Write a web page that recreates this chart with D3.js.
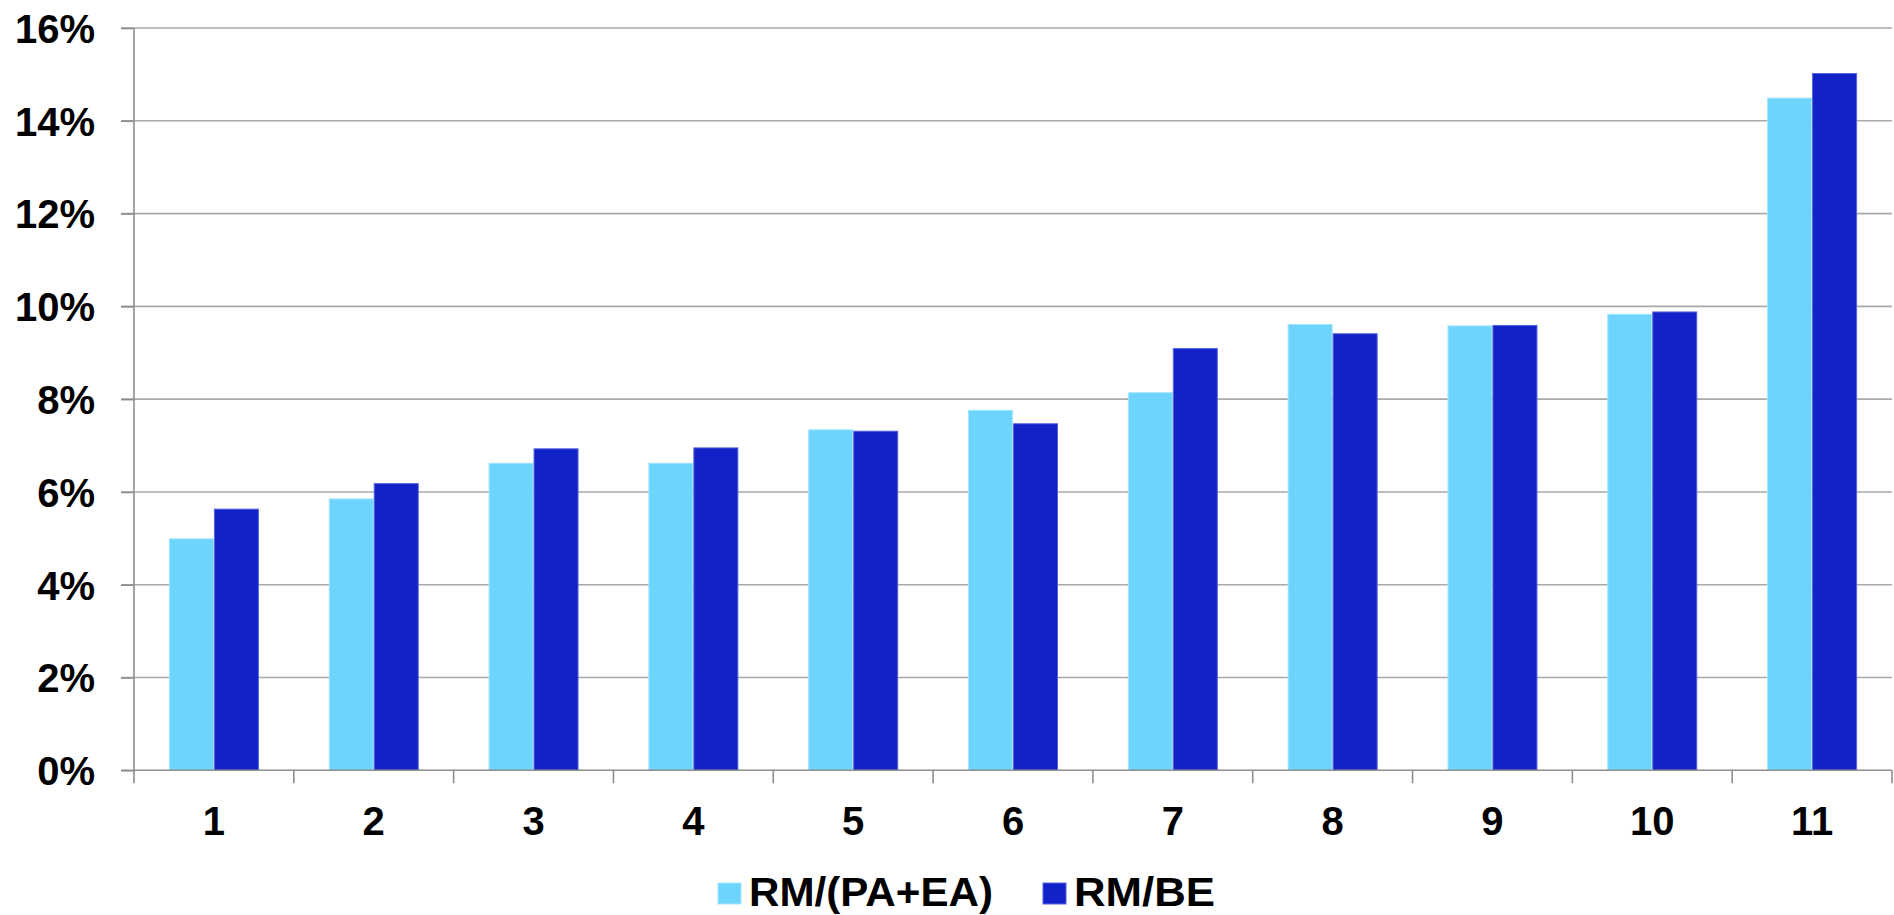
<!DOCTYPE html>
<html>
<head>
<meta charset="utf-8">
<script src="https://cdn.jsdelivr.net/npm/d3@7"></script>
<style>
  html, body { margin: 0; padding: 0; background: #ffffff; }
  svg { display: block; }
  text { font-family: "Liberation Sans", Arial, sans-serif; font-weight: bold; fill: #000; }
</style>
</head>
<body>
<svg id="chart" width="1894" height="915"></svg>
<script>
const categories = ["1","2","3","4","5","6","7","8","9","10","11"];
const seriesNames = ["RM/(PA+EA)", "RM/BE"];
const rmPaEa = [0.0500, 0.0586, 0.0663, 0.0663, 0.0735, 0.0777, 0.0815, 0.0962, 0.0959, 0.0984, 0.1450];
const rmBe   = [0.0564, 0.0619, 0.0694, 0.0696, 0.0732, 0.0748, 0.0910, 0.0942, 0.0960, 0.0989, 0.1503];
const yTicks = [0, 0.02, 0.04, 0.06, 0.08, 0.10, 0.12, 0.14, 0.16];
const colors = ["#6dd4fe", "#1022c8"];
const strokes = ["#a6e5ff", "#5562dc"];

const svg = d3.select("#chart");
const plotLeft = 134, plotRight = 1892, plotTop = 28, plotBottom = 770.3;

const x0 = d3.scaleBand().domain(categories).range([plotLeft, plotRight]).padding(0);
const bw = x0.bandwidth();
const barW = 45;
const x1 = d3.scaleBand().domain(seriesNames)
  .range([bw / 2 - barW, bw / 2 + barW]).padding(0);
const y = d3.scaleLinear().domain([0, 0.16]).range([plotBottom, plotTop]);

// gridlines
svg.append("g").selectAll("line").data(yTicks.filter(d => d > 0)).join("line")
  .attr("x1", plotLeft - 13).attr("x2", plotRight)
  .attr("y1", d => y(d)).attr("y2", d => y(d))
  .attr("stroke", "#a9a9a9").attr("stroke-width", 1.6);

// y axis
const yAxis = d3.axisLeft(y).tickValues(yTicks).tickFormat(d3.format(".0%"))
  .tickSize(13).tickPadding(26);
const gy = svg.append("g").attr("transform", `translate(${plotLeft},0)`).call(yAxis);
gy.select(".domain").attr("stroke", "#8e8e8e").attr("stroke-width", 1.6)
  .attr("d", `M0,${plotTop}V${plotBottom}`);
gy.selectAll(".tick line").attr("stroke", "#8e8e8e").attr("stroke-width", 1.6);
gy.selectAll(".tick text").style("font-size", "40px")
  .style("font-family", '"Liberation Sans", Arial, sans-serif')
  .style("font-weight", "bold").attr("fill", "#000").attr("dy", "0.36em");

// bars
const data = categories.map((c, i) => ({ c, vals: [rmPaEa[i], rmBe[i]] }));
const groups = svg.append("g").selectAll("g").data(data).join("g")
  .attr("transform", d => `translate(${x0(d.c)},0)`);
groups.selectAll("rect").data(d => d.vals.map((v, j) => ({ v, s: seriesNames[j], j })))
  .join("rect")
  .attr("x", d => x1(d.s) + 0.5)
  .attr("width", x1.bandwidth() - 1)
  .attr("y", d => y(d.v) + 0.5)
  .attr("height", d => plotBottom - y(d.v) - 0.5)
  .attr("fill", d => colors[d.j])
  .attr("stroke", d => strokes[d.j])
  .attr("stroke-width", 1);

// x axis
const xTickPos = categories.map(c => x0(c)).concat([plotRight]);
const gx = svg.append("g");
gx.append("line").attr("x1", plotLeft - 13).attr("x2", plotRight)
  .attr("y1", plotBottom).attr("y2", plotBottom)
  .attr("stroke", "#8e8e8e").attr("stroke-width", 1.6);
gx.selectAll("line.tk").data(xTickPos).join("line").attr("class", "tk")
  .attr("x1", d => d).attr("x2", d => d)
  .attr("y1", plotBottom).attr("y2", plotBottom + 13)
  .attr("stroke", "#8e8e8e").attr("stroke-width", 1.6);
gx.selectAll("text").data(categories).join("text")
  .attr("x", d => x0(d) + bw / 2).attr("y", 835)
  .attr("text-anchor", "middle").style("font-size", "40px")
  .text(d => d);

// legend
const legend = svg.append("g");
const legItems = [
  { name: seriesNames[0], sx: 718, tx: 749, len: 244 },
  { name: seriesNames[1], sx: 1043, tx: 1074, len: 141 }
];
legItems.forEach((it, i) => {
  legend.append("rect").attr("x", it.sx).attr("y", 883).attr("width", 23).attr("height", 21)
    .attr("fill", colors[i]).attr("stroke", strokes[i]).attr("stroke-width", 1);
  legend.append("text").attr("x", it.tx).attr("y", 906).style("font-size", "40.5px")
    .attr("textLength", it.len).attr("lengthAdjust", "spacingAndGlyphs").text(it.name);
});
</script>
</body>
</html>
